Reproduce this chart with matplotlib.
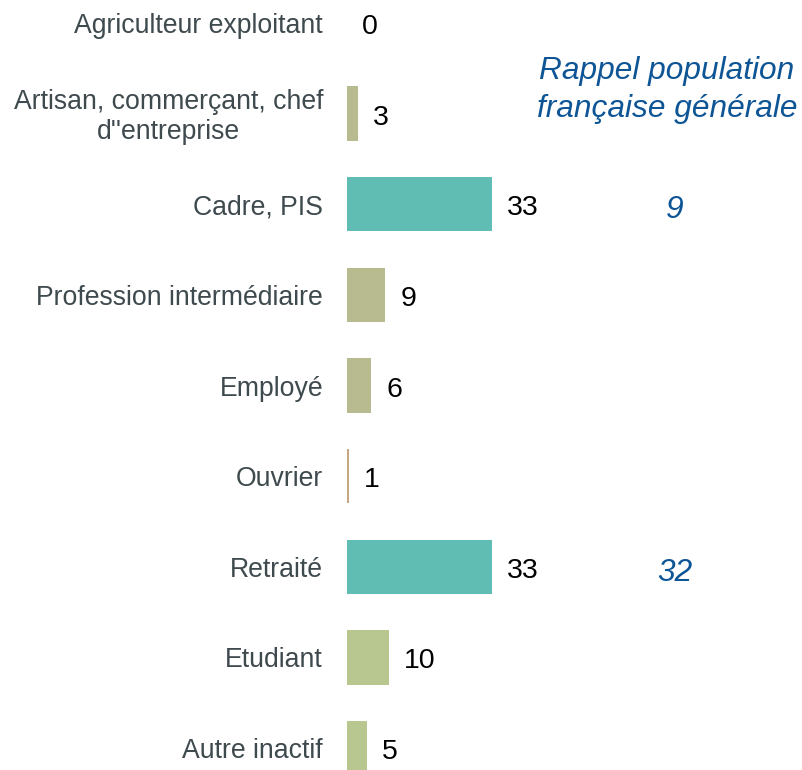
import matplotlib
matplotlib.use('Agg')
import matplotlib.pyplot as plt

plt.rcParams['font.family'] = ['Liberation Sans', 'DejaVu Sans']

categories = ["Agriculteur exploitant", "Artisan, commerçant, chef\nd''entreprise", "Cadre, PIS",
              "Profession intermédiaire", "Employé", "Ouvrier", "Retraité", "Etudiant", "Autre inactif"]
values = [0, 2.5, 33, 8.7, 5.5, 0.5, 33, 9.6, 4.6]
value_labels = ["0", "3", "33", "9", "6", "1", "33", "10", "5"]
bar_colors = ["#B8BB8F", "#B8BB8F", "#5FBDB4", "#B8BB8F", "#B8BB8F", "#C4A882", "#5FBDB4", "#B8C690", "#B8C690"]
rappel_values = {2: "9", 6: "32"}

W, H = 802, 770
fig = plt.figure(figsize=(W / 100, H / 100), dpi=100)

# axes: x=0 at 347px, 33 units -> 145px
x0 = 347
ppu = 145 / 33
ax = fig.add_axes([x0 / W, 0, (W - x0) / W, 1])
ax.set_xlim(0, (W - x0) / ppu)
step = 90.6
ax.set_ylim(8 + (H - 748) / step, -23 / step)
ax.axis('off')

ypos = list(range(len(categories)))
ax.barh(ypos, values, height=0.6, color=bar_colors)

for y, v, lab, cat in zip(ypos, values, value_labels, categories):
    ax.text(v + 15 / ppu, y + 4 / step, lab, va='center', ha='left', fontsize=20.5, color='black')
    ax.text(-24 / ppu, y + 3 / step, cat, va='center', ha='right', fontsize=19.2, color='#3F4A4F',
            multialignment='center', linespacing=1.2, clip_on=False)

fig.text(667 / W, 1 - 90 / H, "Rappel population\nfrançaise générale", ha='center', va='center',
         fontsize=22.8, style='italic', color='#0E5596', linespacing=1.36)
for y, txt in rappel_values.items():
    ax.text((675 - x0) / ppu, y + 6 / step, txt, ha='center', va='center', fontsize=22.8,
            style='italic', color='#0E5596')

fig.savefig('out.png', dpi=100)
